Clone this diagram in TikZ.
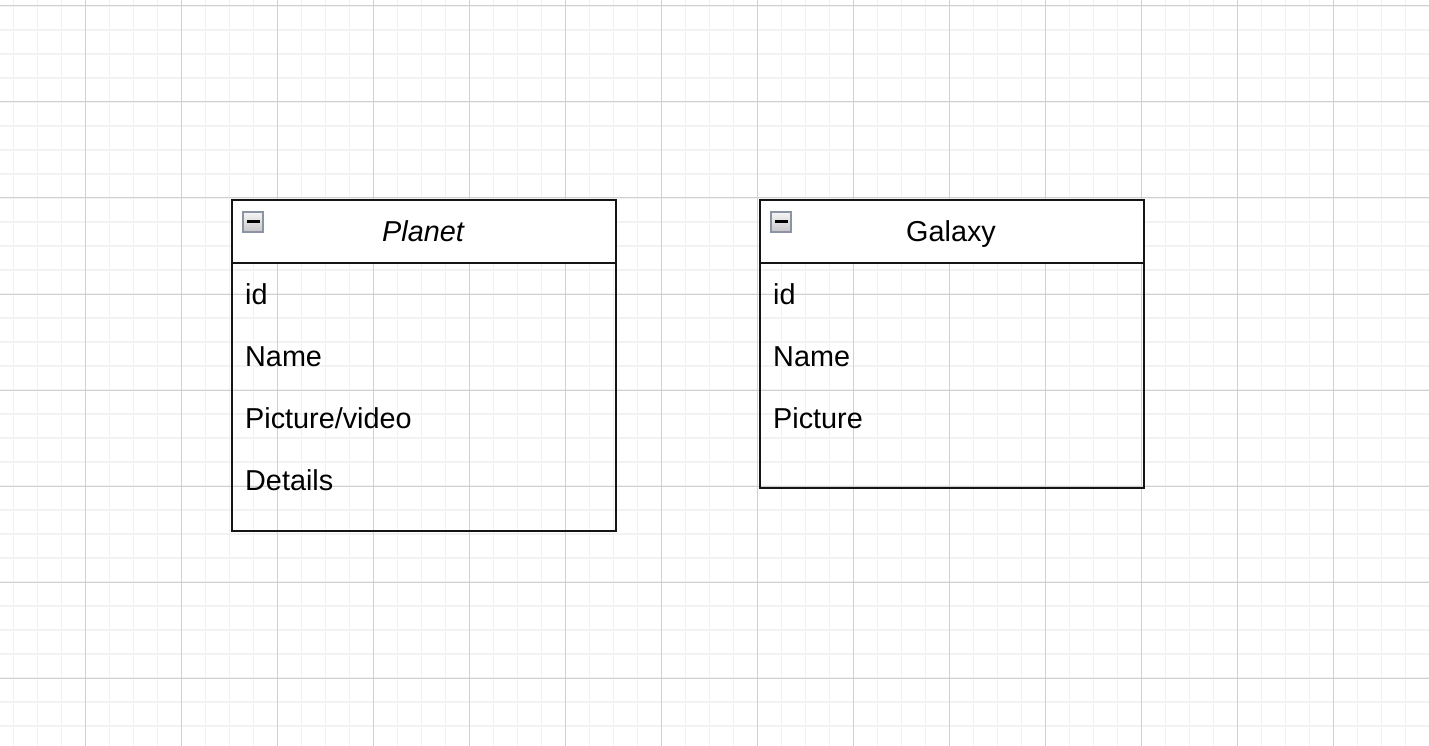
\documentclass[tikz,border=0pt]{standalone}
\usepackage{fontspec}
\setmainfont{Liberation Sans}
\definecolor{gmajor}{HTML}{D0D0D0}
\definecolor{gminor}{HTML}{F2F2F2}
\definecolor{iconedge}{HTML}{8B93A5}
\begin{document}
\begin{tikzpicture}[x=1pt,y=-1pt,
  frame/.style={draw=black!92, line width=2.2pt, inner sep=0pt, anchor=north west, minimum width=384pt},
  head/.style={frame, fill=white, minimum height=63pt},
  attr/.style={anchor=base west, inner sep=0pt, font=\fontsize{28.8}{34}\selectfont},
  ttl/.style={anchor=base, inner sep=0pt, font=\fontsize{28.8}{34}\selectfont},
  icon/.style={draw=iconedge, line width=2pt, minimum size=20pt, inner sep=0pt, anchor=north west, top color=white!96!black, bottom color=black!22},
  bar/.style={fill=black, inner sep=0pt, minimum width=13pt, minimum height=3pt}]
% background and grid
\fill[white] (0,0) rectangle (1430,746);
\useasboundingbox (0,0) rectangle (1430,746);
\foreach \i in {0,...,59} { \draw[gminor, line width=1.6pt] ({13.3+24*\i},0) -- ({13.3+24*\i},746); }
\foreach \j in {0,...,31} { \draw[gminor, line width=1.6pt] (0,{6+24*\j}) -- (1430,{6+24*\j}); }
\foreach \i in {0,...,14} { \draw[gmajor, line width=1pt] ({85.3+96*\i},0) -- ({85.3+96*\i},746); }
\foreach \j in {0,...,7} { \draw[gmajor, line width=1pt] (0,{6+96*\j}) -- (1430,{6+96*\j}); }
% Planet
\node[head] (ph) at (231,199) {};
\node[frame, minimum height=331pt] (p) at (231,199) {};
\node[icon] (pi) at (242,211) {};
\node[bar] (pb) at (pi.center) {};
\node[ttl] (pt) at (423,242) {\itshape Planet};
\node[attr] (p1) at (245,304) {id};
\node[attr] (p2) at (245,366.3) {Name};
\node[attr] (p3) at (245,428.5) {Picture/video};
\node[attr] (p4) at (245,490.7) {Details};
% Galaxy
\node[head] (gh) at (759,199) {};
\node[frame, minimum height=288pt] (g) at (759,199) {};
\node[icon] (gi) at (770,211) {};
\node[bar] (gb) at (gi.center) {};
\node[ttl] (gt) at (951,242) {Galaxy};
\node[attr] (g1) at (773,304) {id};
\node[attr] (g2) at (773,366.3) {Name};
\node[attr] (g3) at (773,428.5) {Picture};
\end{tikzpicture}
\end{document}
